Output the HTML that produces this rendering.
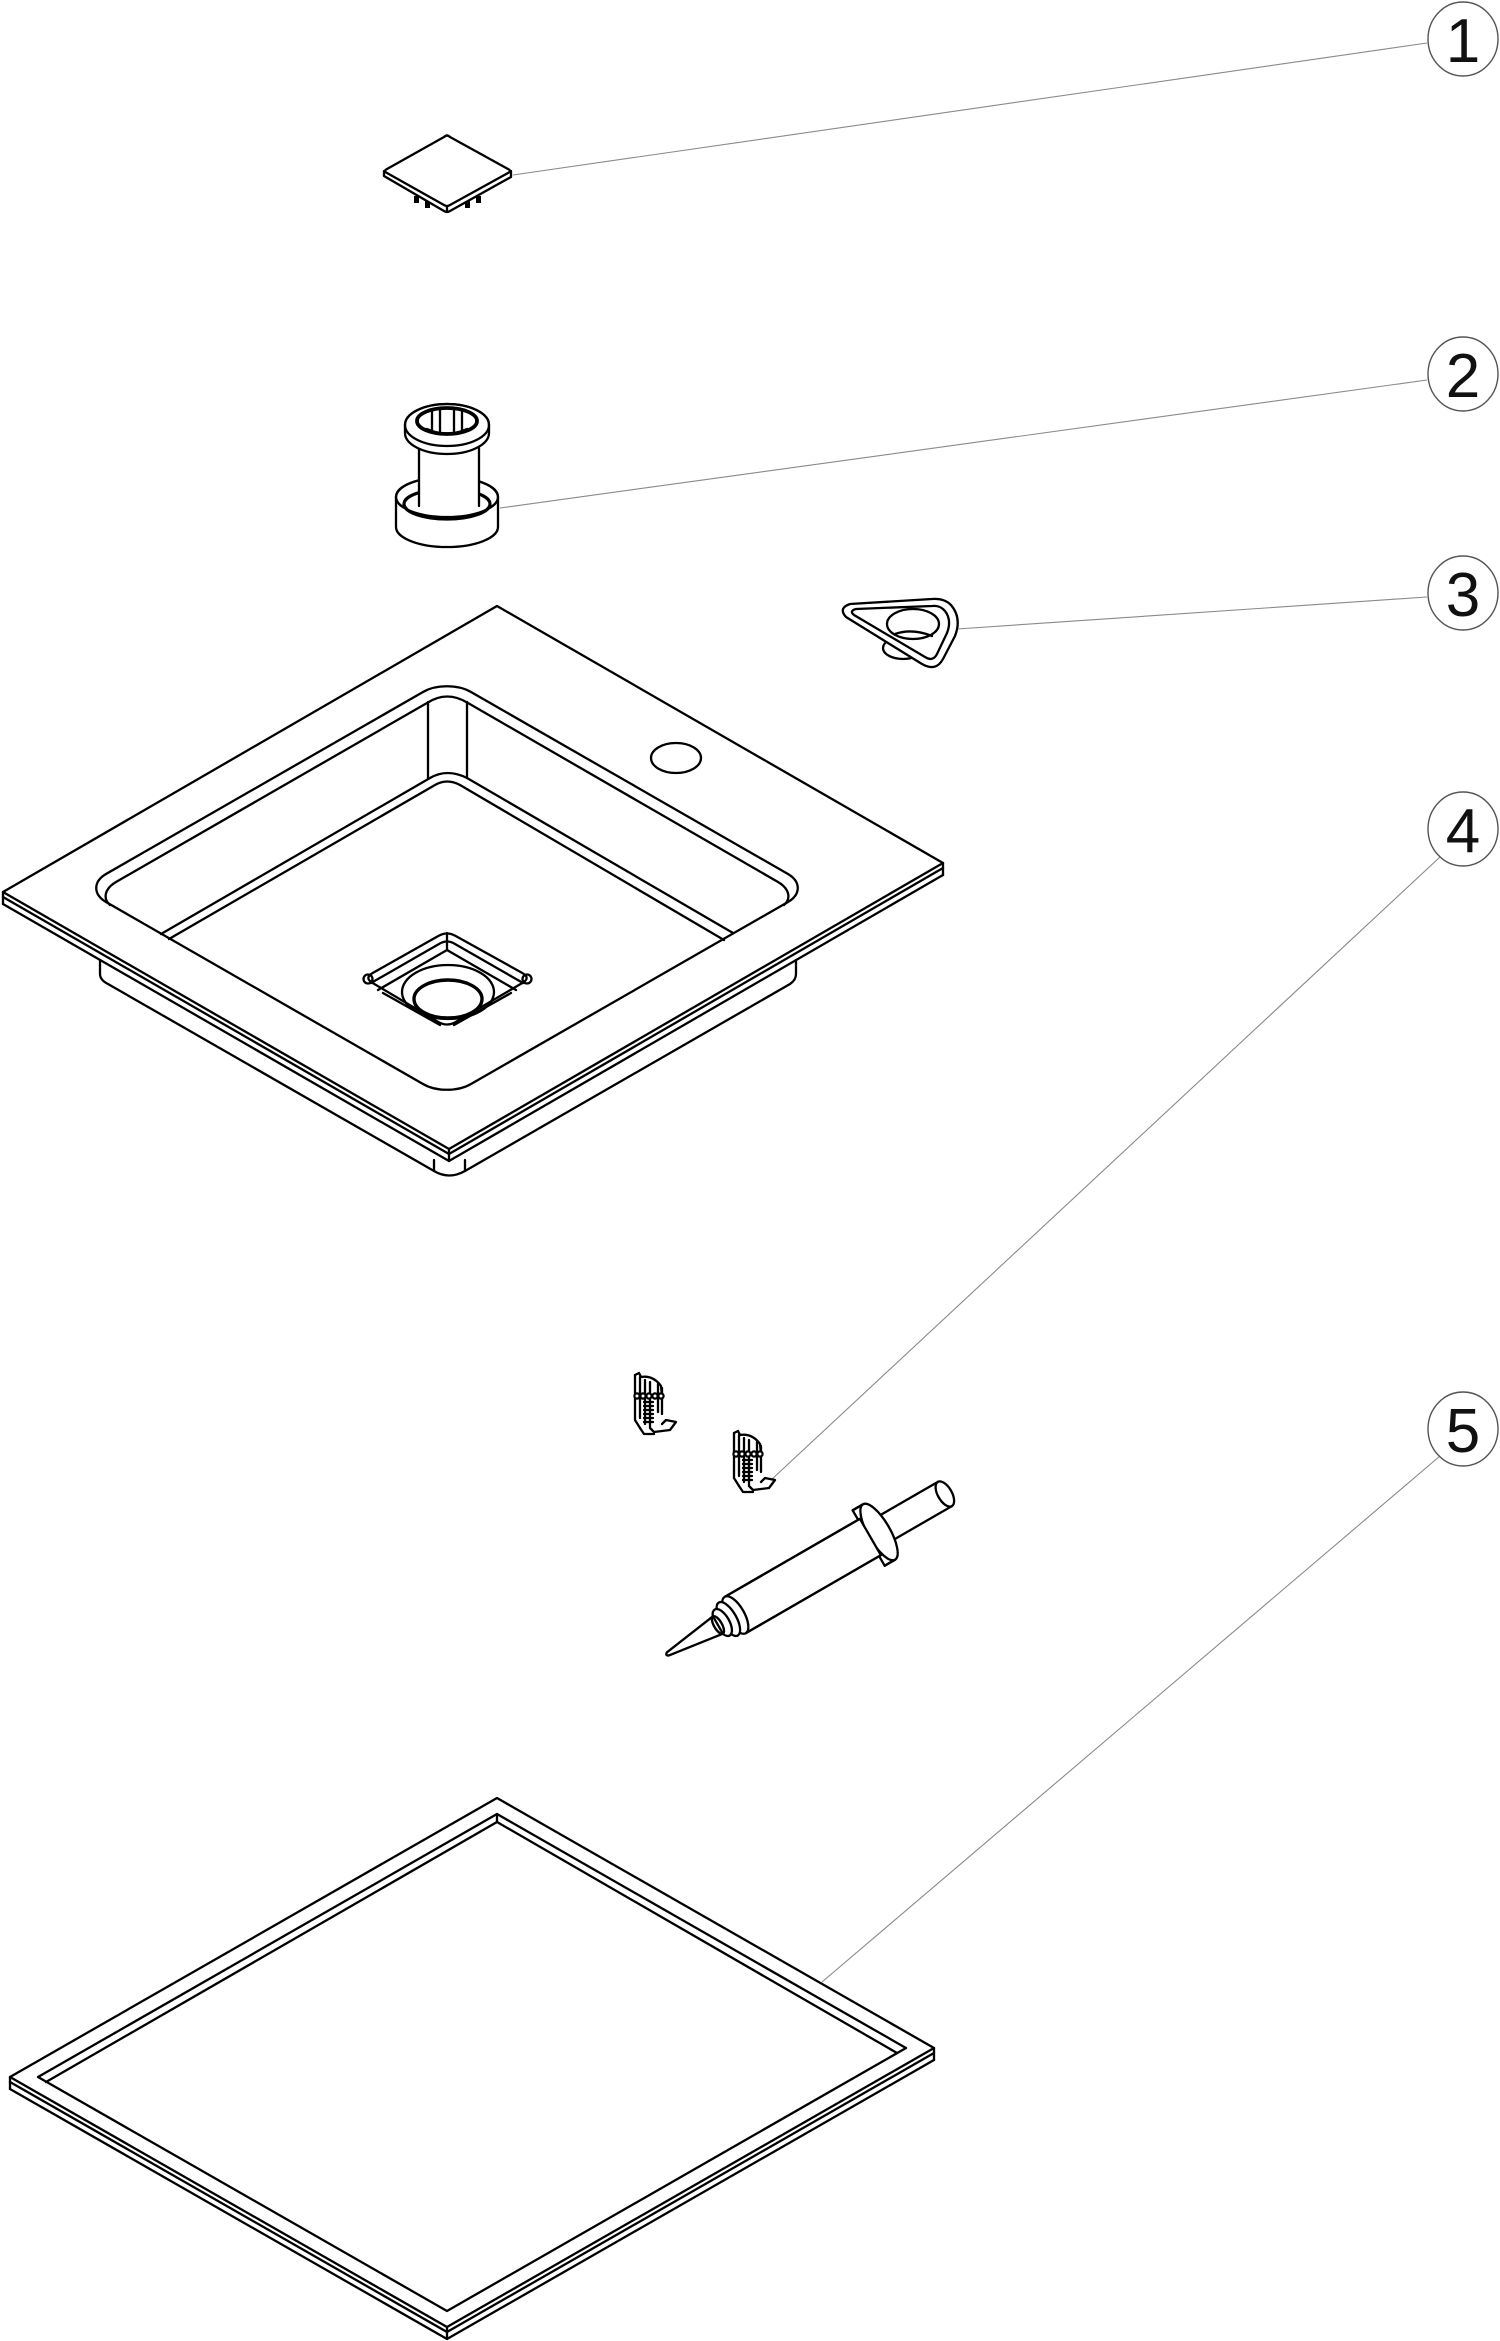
<!DOCTYPE html>
<html>
<head>
<meta charset="utf-8">
<style>
  html, body { margin: 0; padding: 0; background: #fff; }
  body { width: 1500px; height: 2341px; overflow: hidden; }
  svg { display: block; }
  .p { fill: none; stroke: #000; stroke-width: 2.3; stroke-linejoin: round; stroke-linecap: round; }
  .pw { fill: #fff; stroke: #000; stroke-width: 2.3; stroke-linejoin: round; stroke-linecap: round; }
  .ld { fill: none; stroke: #8a8a8a; stroke-width: 1.1; }
  .co { fill: #fff; stroke: #555; stroke-width: 1.4; }
  .num { font-family: "Liberation Sans", "DejaVu Sans", sans-serif; font-size: 62px; fill: #111; text-anchor: middle; }
</style>
</head>
<body>
<svg width="1500" height="2341" viewBox="0 0 1500 2341" xmlns="http://www.w3.org/2000/svg">
  <rect width="1500" height="2341" fill="#fff"/>

  <!-- ========== Leader lines ========== -->
  <line class="ld" x1="1427" y1="43" x2="513" y2="175"/>
  <line class="ld" x1="1427" y1="380" x2="500" y2="508"/>
  <line class="ld" x1="1427" y1="597" x2="957" y2="629"/>
  <line class="ld" x1="1440" y1="857" x2="771" y2="1480"/>
  <line class="ld" x1="1440" y1="1456" x2="822" y2="1982"/>

  <!-- ========== Callouts ========== -->
  <ellipse class="co" cx="1463" cy="39" rx="35" ry="37"/>
  <text class="num" x="1463" y="62">1</text>
  <ellipse class="co" cx="1463" cy="374" rx="35" ry="37"/>
  <text class="num" x="1463" y="397">2</text>
  <ellipse class="co" cx="1463" cy="593" rx="35" ry="37"/>
  <text class="num" x="1463" y="616">3</text>
  <ellipse class="co" cx="1463" cy="829" rx="35" ry="37"/>
  <text class="num" x="1463" y="852">4</text>
  <ellipse class="co" cx="1463" cy="1429" rx="35" ry="37"/>
  <text class="num" x="1463" y="1452">5</text>

  <!-- ========== Part 1: cap ========== -->
  <g>
    <rect x="414" y="196" width="5" height="7" fill="#000"/>
    <rect x="425" y="201" width="5" height="7" fill="#000"/>
    <rect x="465" y="201" width="5" height="7" fill="#000"/>
    <rect x="476" y="196" width="5" height="7" fill="#000"/>
    <path class="pw" d="M384 171 L384 176 L444 211 Q447 213 450 211 L511 177 L511 171 Z"/>
    <path class="pw" d="M444 137 Q447 134 450 137 L508 169 Q512 171 508 173 L450 205 Q447 207 444 205 L387 173 Q383 171 387 169 Z"/>
    <line class="p" x1="447" y1="206" x2="447" y2="212" stroke-width="1.6"/>
  </g>

  <!-- ========== Part 2: drain ========== -->
  <g>
    <path class="pw" d="M396 497 V527 A51 20 0 0 0 498 527 V497 A51 20 0 0 0 396 497 Z"/>
    <ellipse class="p" cx="447" cy="497" rx="51" ry="20"/>
    <ellipse cx="447" cy="504" rx="43" ry="15" fill="none" stroke="#000" stroke-width="3.2"/>
    <rect x="419" y="440" width="60" height="66" fill="#fff"/>
    <line class="p" x1="419" y1="448" x2="419" y2="506"/>
    <line class="p" x1="479" y1="448" x2="479" y2="506"/>
    <path class="pw" d="M405 425 V433 A42 21 0 0 0 489 433 V425 A42 21 0 0 0 405 425 Z"/>
    <ellipse class="p" cx="447" cy="425" rx="42" ry="21"/>
    <ellipse cx="447" cy="421" rx="30" ry="13" fill="#fff" stroke="#000" stroke-width="3.8"/>
    <path class="p" stroke-width="1.6" d="M432 411 V430 M440 409 V433 M454 409 V433 M462 411 V430"/>
    <path class="p" stroke-width="1.8" d="M427 429 Q447 438 467 429"/>
  </g>

  <!-- ========== Part 3: gasket ========== -->
  <g>
    <ellipse class="p" cx="903" cy="648" rx="20" ry="11" stroke-width="1.8"/>
    <path class="pw" stroke-width="3" d="M850 604 Q838 608 846 617 L922 664 Q936 672 943 659 L955 636 Q962 618 951 605 Q944 598 932 599 Z"/>
    <path class="p" stroke-width="2" d="M856 609 Q849 611 854 615 L925 657 Q933 662 937 654 L947 633 Q952 620 945 611 Q940 605 932 606 Z"/>
    <ellipse class="pw" cx="913" cy="624" rx="26" ry="15" stroke-width="2.6"/>
    <path class="p" stroke-width="1.8" d="M895 634 Q912 628 932 636"/>
  </g>

  <!-- ========== Sink ========== -->
  <g>
    <path class="p" d="M100 960 V974 Q100 980 108 984 L434 1171 Q449 1180 465 1171 L790 984 Q796 980 796 974 V960"/>
    <path class="p" stroke-width="1.6" d="M434 1160 V1171 M465 1160 V1171"/>
    <path class="p" d="M3 897 L449 1154 L943 868"/>
    <path class="p" d="M3 904 L449 1161 L943 875"/>
    <path class="p" d="M3 892 V904 M943 863 V875 M449 1149 V1161"/>
    <path class="p" stroke-width="2.6" d="M497 606 L943 863 L449 1149 L3 892 Z"/>
    <ellipse class="p" cx="676" cy="758" rx="25" ry="15"/>
    <path class="p" stroke-width="2.6" d="M423 692 C436 684.3 458 684.3 471 692 L788 874 C801 881.7 801 894.3 788 902 L471 1084 C458 1091.7 436 1091.7 423 1084 L106 902 C93 894.3 93 881.7 106 874 Z"/>
    <path class="p" d="M110 905 C103 899 104 889 116 882 L427 703 Q447 690 468 703 L778 882 C790 889 791 899 784 905"/>
    <path class="p" d="M428 702 V778 M467 702 V778"/>
    <path class="p" d="M161 934 L430 778 Q447 768 467 778 L733 933"/>
    <path class="p" d="M169 939 L435 785 Q447 778 460 785 L724 940"/>
    <path class="p" stroke-width="2.6" d="M438.3 936 Q447 931 455.7 936 L522.3 973 Q531 978 522.3 983 L455.7 1022 Q447 1027 438.3 1022 L372.7 983 Q364 978 372.7 973 Z"/>
    <path class="p" d="M371 983 L439 944 Q447 939 455 944 L523 983"/>
    <circle class="p" cx="368" cy="979" r="4.5" stroke-width="1.8"/>
    <circle class="p" cx="527" cy="979" r="4.5" stroke-width="1.8"/>
    <path class="p" d="M378 990 L447 950 L516 990"/>
    <path class="p" stroke-width="1.8" d="M447 933 V950 M383 993 L440 1025 M511 993 L454 1025"/>
    <ellipse class="p" cx="448" cy="992" rx="46" ry="27" stroke-width="2.6"/>
    <ellipse cx="448" cy="999" rx="34" ry="19" fill="none" stroke="#000" stroke-width="3.4"/>
  </g>

  <!-- ========== Part 4: clips ========== -->
  <g transform="translate(632,1372)">
    <path class="p" stroke-width="2.6" d="M3 3 L7 1 L9 5 Q21 3 29 14 L30 24"/>
    <path class="p" stroke-width="2.6" d="M3 3 L3 48 L8 56"/>
    <path class="p" stroke-width="2.4" d="M8 5 V46 M26 12 V40 M30 16 V42 M13 8 V52 M18 10 V55"/>
    <g fill="#fff" stroke="#000" stroke-width="2.2">
      <circle cx="5" cy="24" r="2.6"/><circle cx="11" cy="24" r="2.6"/><circle cx="17" cy="24" r="2.6"/><circle cx="23" cy="24" r="2.6"/><circle cx="29" cy="24" r="2.6"/>
    </g>
    <path class="p" stroke-width="2" d="M12 30 H21 M12 34 H21 M12 38 H21 M12 42 H21 M12 46 H21 M12 50 H21"/>
    <path class="p" stroke-width="2.4" d="M18 56 L22 60 L38 58 L44 50 L34 48 L30 52"/>
    <path class="p" stroke-width="2.4" d="M8 56 L12 62 L22 62"/>
  </g>
  <g transform="translate(731,1430)">
    <path class="p" stroke-width="2.6" d="M3 3 L7 1 L9 5 Q21 3 29 14 L30 24"/>
    <path class="p" stroke-width="2.6" d="M3 3 L3 48 L8 56"/>
    <path class="p" stroke-width="2.4" d="M8 5 V46 M26 12 V40 M30 16 V42 M13 8 V52 M18 10 V55"/>
    <g fill="#fff" stroke="#000" stroke-width="2.2">
      <circle cx="5" cy="24" r="2.6"/><circle cx="11" cy="24" r="2.6"/><circle cx="17" cy="24" r="2.6"/><circle cx="23" cy="24" r="2.6"/><circle cx="29" cy="24" r="2.6"/>
    </g>
    <path class="p" stroke-width="2" d="M12 30 H21 M12 34 H21 M12 38 H21 M12 42 H21 M12 46 H21 M12 50 H21"/>
    <path class="p" stroke-width="2.4" d="M18 56 L22 60 L38 58 L44 50 L34 48 L30 52"/>
    <path class="p" stroke-width="2.4" d="M8 56 L12 62 L22 62"/>
  </g>

  <!-- ========== Syringe ========== -->
  <g transform="translate(666,1655) rotate(-30)">
    <!-- rod -->
    <path class="pw" d="M246 -14 L322 -14 L322 14 L246 14 Z"/>
    <ellipse class="pw" cx="322" cy="0" rx="7" ry="14"/>
    <!-- flange -->
    <path class="pw" d="M234 -32 L246 -32 L246 32 L234 32 Z"/>
    <ellipse class="pw" cx="246" cy="0" rx="11" ry="32"/>
    <path class="p" d="M234 -32 L246 -32 M234 32 L246 32"/>
    <!-- barrel -->
    <path class="pw" d="M80 -21 L236 -21 L236 21 L80 21 Z"/>
    <path class="p" d="M80 -21 L236 -21 M80 21 L236 21"/>
    <ellipse class="p" cx="234" cy="0" rx="10" ry="32" stroke-dasharray="0" opacity="0"/>
    <!-- collar -->
    <ellipse class="pw" cx="80" cy="0" rx="9" ry="21"/>
    <ellipse class="pw" cx="72" cy="0" rx="8" ry="19"/>
    <ellipse class="pw" cx="65" cy="0" rx="7" ry="15"/>
    <!-- nozzle -->
    <path class="pw" d="M2 -1.8 L60 -10 L60 10 L2 1.8 Q-1 0 2 -1.8 Z"/>
    <ellipse class="p" cx="60" cy="0" rx="4" ry="10"/>
  </g>

  <!-- ========== Part 5: frame ========== -->
  <g>
    <path class="p" d="M10 2082 L447 2332 L934 2053"/>
    <path class="p" d="M10 2089 L447 2339 L934 2060"/>
    <path class="p" d="M10 2077 V2089 M934 2048 V2060 M447 2327 V2339"/>
    <path class="p" stroke-width="2.6" d="M497 1798 L934 2048 L447 2327 L10 2077 Z"/>
    <path class="p" stroke-width="2.4" d="M497 1814 L906 2048 L447 2311 L38 2077 Z"/>
    <path class="p" d="M46 2082 L497 1822 L897 2053"/>
    <path class="p" stroke-width="1.6" d="M497 1814 V1822"/>
  </g>
</svg>
</body>
</html>
